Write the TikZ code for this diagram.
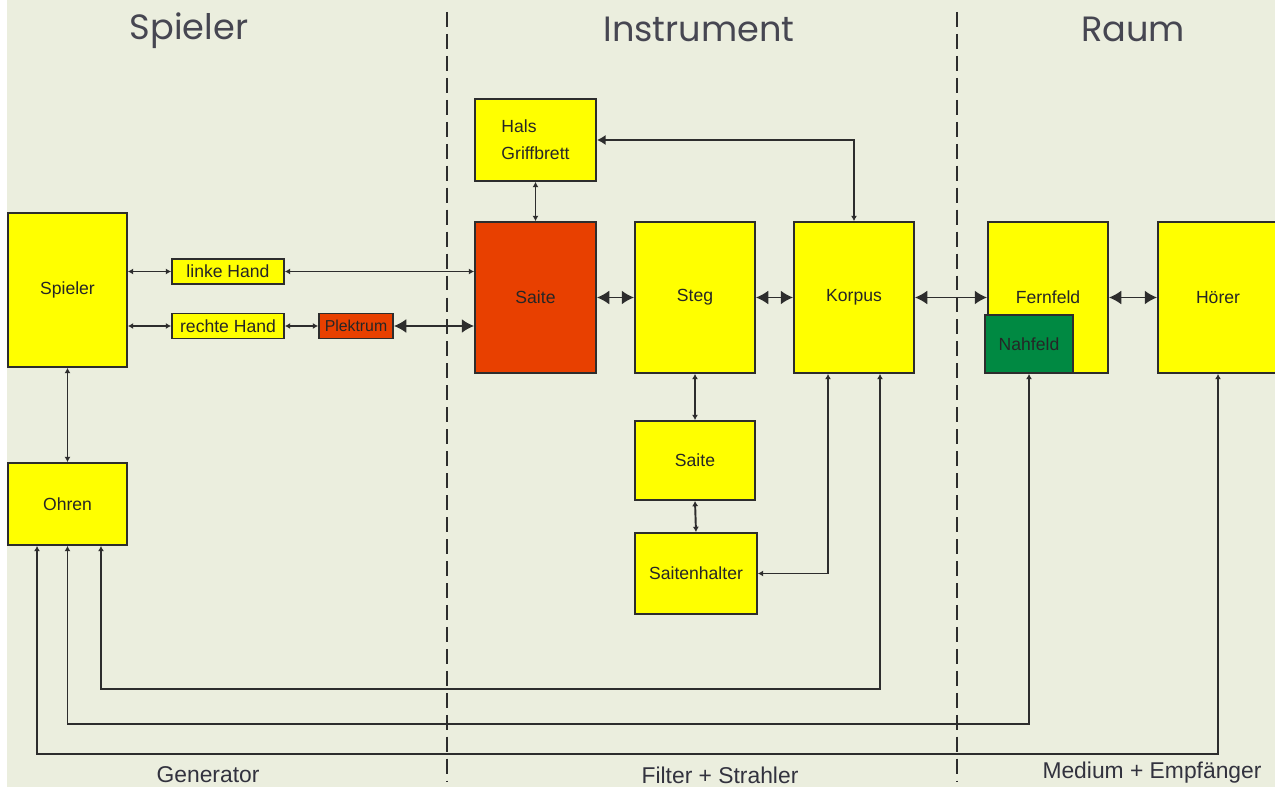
\documentclass[tikz,border=0pt]{standalone}
\usepackage{fontspec}
\setmainfont{Liberation Sans}
\newfontfamily\titlefont{Poppins}
\usetikzlibrary{arrows.meta, positioning}
\definecolor{bgcol}{RGB}{235,238,222}
\definecolor{boxyellow}{RGB}{255,255,0}
\definecolor{boxred}{RGB}{232,64,0}
\definecolor{boxgreen}{RGB}{0,137,66}
\definecolor{linecol}{RGB}{45,45,45}
\definecolor{titlecol}{RGB}{50,50,62}

\begin{document}
\begin{tikzpicture}[x=0.02cm, y=-0.02cm,
    box/.style={draw=linecol, line width=1.1pt, fill=boxyellow, inner sep=0pt,
      font=\fontsize{10}{12}\selectfont, text=black!85},
    bigbox/.style={box, minimum width=2.4cm, minimum height=3.02cm},
    handbox/.style={box, minimum width=2.24cm, minimum height=0.5cm},
    link/.style={draw=linecol, line width=1.1pt},
    tick/.style={link, {Latex[length=3pt,width=3.5pt]}-{Latex[length=3pt,width=3.5pt]}},
    bigtip/.style={link, {Latex[length=7pt,width=8pt]}-{Latex[length=7pt,width=8pt]}},
    divider/.style={linecol, line width=1.1pt, dash pattern=on 8.5pt off 4pt},
    title/.style={font=\titlefont\fontsize{20}{24}\selectfont, text=titlecol!90},
    bottomlabel/.style={font=\fontsize{13}{15}\selectfont, text=titlecol}]

    % Hintergrund
    \useasboundingbox (0,0) rectangle (1275,787);
    \fill[white] (0,0) rectangle (7,787);
    \fill[bgcol] (7,0) rectangle (1275,787);

    % Trennlinien
    \draw[divider] (447,12) -- (447,782);
    \draw[divider] (957,12) -- (957,782);

    % Ueberschriften
    \node[title] (tspieler) at (189,31) {Spieler};
    \node[title] (tinstrument) at (699,29) {Instrument};
    \node[title] (traum) at (1133,29) {Raum};

    % Spieler
    \node[box, minimum width=2.38cm, minimum height=3.08cm] (spieler) at (67.5,290) {Spieler};
    \node[box, minimum width=2.38cm, minimum height=1.64cm] (ohren) at (67.5,504) {Ohren};
    \node[handbox] (linke) at (228,271.5) {linke Hand};
    \node[handbox] (rechte) at (228,326) {rechte Hand};
    \node[box, fill=boxred, minimum width=1.48cm, minimum height=0.5cm,
      font=\fontsize{9}{11}\selectfont] (plektrum) at (356,326) {Plektrum};

    % Instrument
    \node[box, minimum width=2.42cm, minimum height=1.64cm, align=left,
      font=\fontsize{10}{15.3}\selectfont] (hals) at (535.5,140) {Hals\\Griffbrett};
    \node[bigbox, fill=boxred, minimum width=2.42cm] (saite) at (535.5,297.5) {Saite};
    \node[bigbox] (steg) at (695,297.5) {Steg};
    \node[bigbox] (korpus) at (854,297.5) {Korpus};
    \node[box, minimum width=2.4cm, minimum height=1.58cm] (saiteB) at (695,460.5) {Saite};
    \node[box, minimum width=2.44cm, minimum height=1.62cm] (halter) at (696,573.5) {Saitenhalter};

    % Raum
    \node[bigbox] (fernfeld) at (1048,297.5) {Fernfeld};
    \node[box, fill=boxgreen, minimum width=1.76cm, minimum height=1.16cm] (nahfeld) at (1029,344) {Nahfeld};
    \node[bigbox] (hoerer) at (1218,297.5) {Hörer};

    % Anschlusspunkte
    \coordinate (ohrenA) at ([xshift=-0.61cm]ohren.south);
    \coordinate (ohrenC) at ([xshift=0.67cm]ohren.south);
    \coordinate (korpusA) at ([xshift=-0.52cm]korpus.south);
    \coordinate (korpusB) at ([xshift=0.52cm]korpus.south);

    % Verbindungen
    \draw[tick] (spieler.east |- linke.west) -- (linke.west);
    \draw[tick] (linke.east) -- (saite.west |- linke.east);
    \draw[tick] (spieler.east |- rechte.west) -- (rechte.west);
    \draw[tick] (rechte.east) -- (plektrum.west);
    \draw[bigtip] (plektrum.east) -- (saite.west |- plektrum.east);
    \draw[tick] (hals.south) -- (saite.north);
    \draw[link, {Latex[length=3pt,width=3.5pt]}-{Latex[length=5pt,width=6pt]}] (korpus.north) |- (hals.east);
    \draw[bigtip] (saite.east) -- (steg.west);
    \draw[bigtip] (steg.east) -- (korpus.west);
    \draw[bigtip] (korpus.east) -- (fernfeld.west);
    \draw[bigtip] (fernfeld.east) -- (hoerer.west);
    \draw[tick] (steg.south) -- (saiteB.north);
    \draw[tick] (saiteB.south) -- (halter.north);
    \draw[tick] (halter.east) -| (korpusA);
    \draw[tick] (ohren.north) -- (spieler.south);

    % Rueckkopplung zu den Ohren
    \draw[tick] (korpusB) -- ++(0,315) -| (ohrenC);
    \draw[tick] (nahfeld.south) -- ++(0,350) -| (ohren.south);
    \draw[tick] (hoerer.south) -- ++(0,380) -| (ohrenA);

    % Unterschriften
    \node[bottomlabel] (lgen) at (208,775) {Generator};
    \node[bottomlabel] (lfilter) at (720,775) {Filter + Strahler};
    \node[bottomlabel] (lmedium) at (1152,773) {Medium + Empfänger};
\end{tikzpicture}
\end{document}
